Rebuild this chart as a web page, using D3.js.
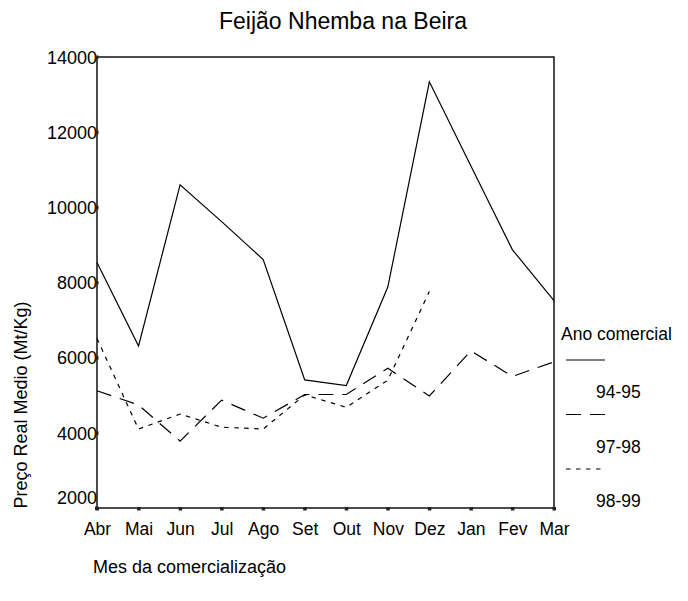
<!DOCTYPE html>
<html>
<head>
<meta charset="utf-8">
<script src="https://cdn.jsdelivr.net/npm/d3@7"></script>
<style>
  body { margin: 0; background: #fff; }
  text { font-family: "Liberation Sans", Arial, sans-serif; fill: #000; }
</style>
</head>
<body>
<script>
var months = ["Abr", "Mai", "Jun", "Jul", "Ago", "Set", "Out", "Nov", "Dez", "Jan", "Fev", "Mar"];
var yTicks = [2000, 4000, 6000, 8000, 10000, 12000, 14000];

var s9495 = [8530, 6310, 10600, 9620, 8610, 5410, 5260, 7880, 13340, 11100, 8870, 7520];
var s9798 = [5120, 4740, 3780, 4870, 4390, 5020, 5020, 5720, 4980, 6180, 5500, 5890];
var s9899 = [6510, 4100, 4500, 4150, 4100, 5010, 4680, 5400, 7760];

var seriesNames = ["94-95", "97-98", "98-99"];
var seriesData = [s9495, s9798, s9899];
var dashes = [null, "15,9", "4.5,5.5"];

var margin = {top: 57, right: 134, bottom: 93, left: 97};
var width = 688 - margin.left - margin.right;
var height = 601 - margin.top - margin.bottom;

var svg = d3.select("body").append("svg")
  .attr("width", 688)
  .attr("height", 601);

var x = d3.scalePoint().domain(months).range([0, width]);
var y = d3.scaleLinear().domain([2000, 14000]).range([height, 0]);

var g = svg.append("g")
  .attr("transform", "translate(" + margin.left + "," + margin.top + ")");

// frame
g.append("rect")
  .attr("width", width)
  .attr("height", height)
  .attr("fill", "none")
  .attr("stroke", "#000")
  .attr("stroke-width", 1.4);

var xAxis = d3.axisBottom(x).tickSize(0).tickPadding(15);
var yAxis = d3.axisLeft(y).tickValues(yTicks).tickSize(0).tickPadding(0)
  .tickFormat(d3.format("d"));

var gx = g.append("g")
  .attr("transform", "translate(0," + height + ")")
  .call(xAxis);
gx.select(".domain").remove();
gx.selectAll("text")
  .style("font-size", "17.5px")
  .attr("fill", "#000");

var gy = g.append("g").call(yAxis);
gy.select(".domain").remove();
gy.selectAll("text")
  .style("font-size", "18px")
  .attr("fill", "#000")
  .attr("dy", function(d) { return d === 2000 ? "-0.25em" : "0.35em"; });

// small square tick markers
g.selectAll(".xmark").data(months).enter().append("rect")
  .attr("x", function(d) { return x(d) - 1.5; })
  .attr("y", height - 1)
  .attr("width", 3.5)
  .attr("height", 3.5)
  .attr("fill", "#222");

g.selectAll(".ymark").data(yTicks).enter().append("rect")
  .attr("x", -2)
  .attr("y", function(d) { return y(d) - 1.5; })
  .attr("width", 3.5)
  .attr("height", 3.5)
  .attr("fill", "#222");

var line = d3.line()
  .x(function(d, i) { return x(months[i]); })
  .y(function(d) { return y(d); });

g.selectAll(".series").data(seriesData).enter().append("path")
  .attr("class", "series")
  .attr("d", line)
  .attr("fill", "none")
  .attr("stroke", "#000")
  .attr("stroke-width", 1.2)
  .attr("stroke-dasharray", function(d, i) { return dashes[i]; });

// title and axis labels
svg.append("text")
  .attr("x", 343)
  .attr("y", 29)
  .attr("text-anchor", "middle")
  .style("font-size", "23px")
  .text("Feijão Nhemba na Beira");

svg.append("text")
  .attr("transform", "translate(27,405) rotate(-90)")
  .attr("text-anchor", "middle")
  .style("font-size", "18px")
  .text("Preço Real Medio (Mt/Kg)");

svg.append("text")
  .attr("x", 93)
  .attr("y", 573)
  .style("font-size", "18px")
  .text("Mes da comercialização");

// legend
var legend = svg.append("g");
legend.append("text")
  .attr("x", 561)
  .attr("y", 340)
  .style("font-size", "17.5px")
  .text("Ano comercial");

var legendY = d3.scaleLinear().domain([0, 1]).range([360, 414.5]);

seriesNames.forEach(function(name, i) {
  legend.append("line")
    .attr("x1", 566)
    .attr("x2", 605)
    .attr("y1", legendY(i))
    .attr("y2", legendY(i))
    .attr("stroke", "#000")
    .attr("stroke-width", 1.2)
    .attr("stroke-dasharray", dashes[i]);
  legend.append("text")
    .attr("x", 596)
    .attr("y", legendY(i) + 38)
    .style("font-size", "17.5px")
    .text(name);
});
</script>
</body>
</html>
